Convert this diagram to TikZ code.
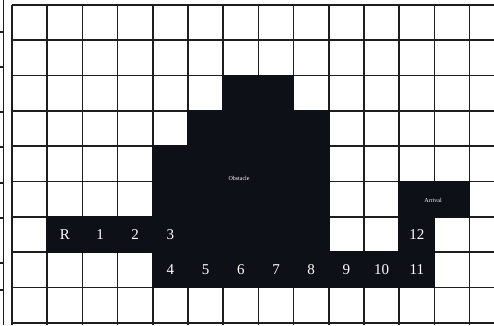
\documentclass[tikz,border=0pt]{standalone}
\usepackage{fontspec}
\setmainfont{Liberation Serif}
\definecolor{obst}{HTML}{0E1018}
\definecolor{gl}{HTML}{1E1E1E}
\begin{document}
\begin{tikzpicture}[x=1pt,y=-1pt,
  gridline/.style={line width=1.7pt, draw=gl},
  cellfill/.style={fill=obst},
  lbl/.style={text=white, font=\fontsize{15}{15}\selectfont, inner sep=0pt},
  tiny/.style={text=white, font=\fontsize{6}{6}\selectfont, inner sep=0pt}]
\useasboundingbox (0,0) rectangle (494,325);
\fill[white] (0,0) rectangle (494,325);
% left partial strip of another grid
\draw[gridline] (3.5,0) -- (3.5,325);
\foreach \yy in {32,67,112,147,183,218,263,290}
  \draw[gridline] (0,\yy) -- (3.5,\yy);
% main grid
\foreach \k in {0,...,9}
  \draw[gridline] (12,{5+35.3*\k}) -- (494,{5+35.3*\k});
\foreach \k in {0,...,13}
  \draw[gridline] ({12+35.2*\k},5) -- ({12+35.2*\k},325);
% obstacle / path cells
\foreach \c/\r in {6/2,7/2,5/3,6/3,7/3,8/3,4/4,5/4,6/4,7/4,8/4,4/5,5/5,6/5,7/5,8/5,11/5,12/5,1/6,2/6,3/6,4/6,5/6,6/6,7/6,8/6,11/6,4/7,5/7,6/7,7/7,8/7,9/7,10/7,11/7}
  \fill[cellfill] ({12+35.2*\c-0.8},{5+35.3*\r-0.8}) rectangle ({12+35.2*(\c+1)+0.8},{5+35.3*(\r+1)+0.8});
% labels
\node[lbl] (lR) at ({12+35.2*1.5},{5+35.3*6.5}) {R};
\node[lbl] (l1) at ({12+35.2*2.5},{5+35.3*6.5}) {1};
\node[lbl] (l2) at ({12+35.2*3.5},{5+35.3*6.5}) {2};
\node[lbl] (l3) at ({12+35.2*4.5},{5+35.3*6.5}) {3};
\node[lbl] (l4) at ({12+35.2*4.5},{5+35.3*7.5}) {4};
\node[lbl] (l5) at ({12+35.2*5.5},{5+35.3*7.5}) {5};
\node[lbl] (l6) at ({12+35.2*6.5},{5+35.3*7.5}) {6};
\node[lbl] (l7) at ({12+35.2*7.5},{5+35.3*7.5}) {7};
\node[lbl] (l8) at ({12+35.2*8.5},{5+35.3*7.5}) {8};
\node[lbl] (l9) at ({12+35.2*9.5},{5+35.3*7.5}) {9};
\node[lbl] (l10) at ({12+35.2*10.5},{5+35.3*7.5}) {10};
\node[lbl] (l11) at ({12+35.2*11.5},{5+35.3*7.5}) {11};
\node[lbl] (l12) at ({12+35.2*11.5},{5+35.3*6.5}) {12};
\node[tiny] (obs) at (239,178) {Obstacle};
\node[tiny] (arr) at (433,200) {Arrival};
\end{tikzpicture}
\end{document}
